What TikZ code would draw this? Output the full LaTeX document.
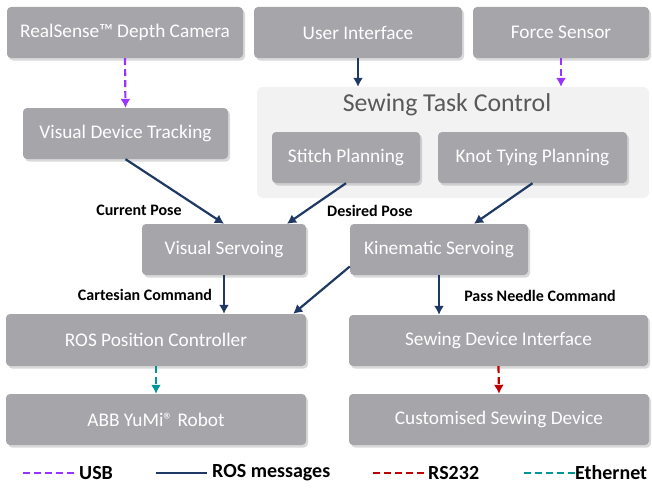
\documentclass[tikz,border=0pt]{standalone}
\usepackage{fontspec}
\setmainfont{Carlito}
\usetikzlibrary{calc,shadows,arrows.meta}
\definecolor{boxgray}{RGB}{166,166,170}
\definecolor{panelgray}{RGB}{242,242,242}
\definecolor{rosblue}{RGB}{31,56,100}
\definecolor{usbpurple}{RGB}{153,51,255}
\definecolor{rsred}{RGB}{192,0,0}
\definecolor{ethteal}{RGB}{0,150,150}

\begin{document}
\begin{tikzpicture}[x=1pt,y=-1pt,
	box/.style={fill=boxgray,text=white,rounded corners=4pt,inner sep=0pt,
		font=\fontsize{19.3}{21}\selectfont,
		drop shadow={shadow xshift=2pt,shadow yshift=-2.5pt,opacity=0.3}},
	lbl/.style={font=\fontsize{16}{18}\bfseries\selectfont,inner sep=0pt},
	leg/.style={font=\fontsize{20}{22}\bfseries\selectfont,inner sep=0pt,anchor=west},
	ros/.style={rosblue,line width=2.2pt,-{Latex[length=9pt,width=10pt]}},
	usb/.style={usbpurple,line width=2.2pt,dash pattern=on 7pt off 4pt,-{Latex[length=9pt,width=10pt]}},
	rs/.style={rsred,line width=2.2pt,dash pattern=on 7pt off 4pt,-{Latex[length=9pt,width=10pt]}},
	eth/.style={ethteal,line width=2.2pt,dash pattern=on 7pt off 4pt,-{Latex[length=9pt,width=10pt]}}]
\useasboundingbox (0,0) rectangle (652,487);

% sewing task control panel
\node[fill=panelgray,rounded corners=6pt,minimum width=392,minimum height=111,inner sep=0pt] (stc) at (453,142.5) {};
\node[font=\fontsize{25.8}{28}\selectfont,text=black!65] (stctitle) at (447,105) {Sewing Task Control};

% boxes
\node[box,minimum width=236,minimum height=51] (cam) at (125,32.5) {RealSense™ Depth Camera};
\node[box,minimum width=208,minimum height=51] (ui) at (358,32.5) {User Interface};
\node[box,minimum width=176,minimum height=51] (fs) at (561,32.5) {Force Sensor};
\node[box,minimum width=205,minimum height=51] (vdt) at (125.5,133.5) {Visual Device Tracking};
\node[box,minimum width=148,minimum height=51] (sp) at (346,157.5) {Stitch Planning};
\node[box,minimum width=189,minimum height=51] (ktp) at (532.5,157.5) {Knot Tying Planning};
\node[box,minimum width=164,minimum height=51] (vs) at (224,249.5) {Visual Servoing};
\node[box,minimum width=178,minimum height=51] (ks) at (439,249.5) {Kinematic Servoing};
\node[box,minimum width=300,minimum height=52] (rpc) at (156,340) {ROS Position Controller};
\node[box,minimum width=299,minimum height=51] (sdi) at (498.5,340.5) {Sewing Device Interface};
\node[box,minimum width=300,minimum height=51] (abb) at (156,419.5) {ABB YuMi® Robot};
\node[box,minimum width=300,minimum height=51] (csd) at (499,419.5) {Customised Sewing Device};

% connectors
\draw[usb] (cam.south) -- (vdt.north);
\draw[ros] (ui.south) -- (ui.south |- stc.north);
\draw[usb] (fs.south) -- (fs.south |- stc.north);
\draw[ros] (vdt.south) -- (vs.north);
\draw[ros] (sp.south) -- ([xshift=63pt]vs.north);
\draw[ros] (ktp.south) -- ([xshift=35pt]ks.north);
\draw[ros] (vs.south) -- (vs.south |- rpc.north);
\draw[ros] ([yshift=-17pt]ks.west) -- ([xshift=-13pt]rpc.north east);
\draw[ros] (ks.south) -- (ks.south |- sdi.north);
\draw[eth] (rpc.south) -- (abb.north);
\draw[rs] (sdi.south) -- (csd.north);

% labels
\node[lbl] (curpose) at (139,210) {Current Pose};
\node[lbl] (despose) at (370,211) {Desired Pose};
\node[lbl] (cartcmd) at (145,295) {Cartesian Command};
\node[lbl] (needcmd) at (540,296) {Pass Needle Command};

% legend
\node[leg] (lusb) at (79,473) {USB};
\node[leg] (lros) at (212,473) {ROS messages};
\node[leg] (lrs) at (428,473) {RS232};
\node[leg] (leth) at (575,473) {Ethernet};
\coordinate (cusb) at (23,473);
\coordinate (cros) at (156,473);
\coordinate (crs) at (373,473);
\coordinate (ceth) at (524,473);
\draw[usbpurple,line width=2.2pt,dash pattern=on 7pt off 4pt] (cusb) -- ([xshift=-5pt]lusb.west);
\draw[rosblue,line width=2.2pt] (cros) -- ([xshift=-5pt]lros.west);
\draw[rsred,line width=2.2pt,dash pattern=on 7pt off 4pt] (crs) -- ([xshift=-4pt]lrs.west);
\draw[ethteal,line width=2.2pt,dash pattern=on 7pt off 4pt] (ceth) -- (leth.west);
\end{tikzpicture}
\end{document}
